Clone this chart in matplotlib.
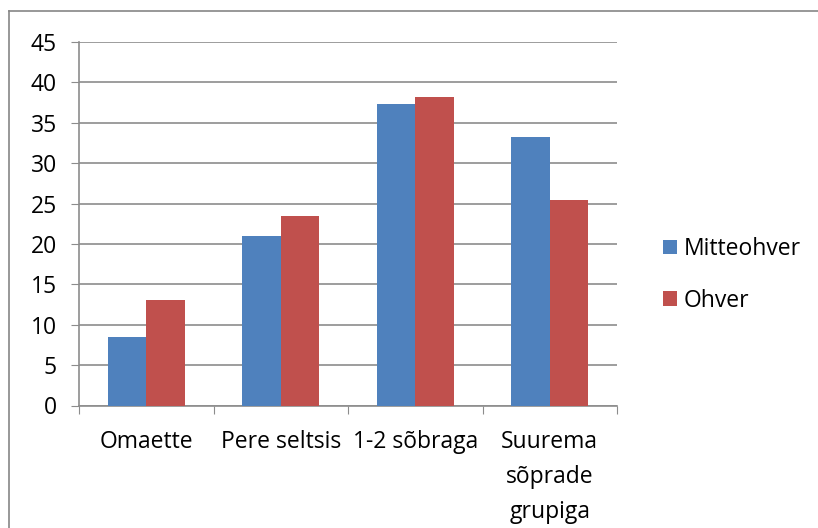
import numpy as np
import matplotlib.pyplot as plt
from matplotlib.lines import Line2D

categories = ["Omaette", "Pere seltsis", "1-2 sõbraga", "Suurema\nsõprade\ngrupiga"]
mitteohver = [8.5, 21.0, 37.3, 33.2]
ohver = [13.0, 23.4, 38.2, 25.4]
series_names = ["Mitteohver", "Ohver"]

BLUE = "#4f81bd"
RED = "#c0504d"
GRID = "#8c8c8c"
FS = 16.5

plt.rcParams["font.family"] = ["Open Sans", "DejaVu Sans"]

fig = plt.figure(figsize=(8.18, 5.28), dpi=100)
ax = fig.add_axes([79 / 818, 1 - 405.5 / 528, 538 / 818, 363.5 / 528])

x = np.arange(len(categories))
w = 1 / 3.5
ax.bar(x - w / 2, mitteohver, w, color=BLUE, label=series_names[0], zorder=3)
ax.bar(x + w / 2, ohver, w, color=RED, label=series_names[1], zorder=3)

ax.set_xlim(-0.5, len(categories) - 0.5)
ax.set_ylim(0, 45)
ax.set_yticks(np.arange(0, 46, 5))
ax.yaxis.grid(True, color=GRID, linewidth=1.2, zorder=0)
ax.set_axisbelow(True)

# category labels between boundary ticks
ax.set_xticks(np.arange(-0.5, len(categories), 1))
ax.set_xticklabels([])
ax.set_xticks(x, minor=True)
ax.set_xticklabels(categories, minor=True, fontsize=FS, linespacing=1.6, va="top")
ax.tick_params(axis="x", which="minor", length=0, pad=18)
ax.tick_params(axis="x", which="major", length=6, color=GRID, direction="out")
ax.tick_params(axis="y", length=6, color=GRID, labelsize=FS, pad=10)

for s in ["top", "right"]:
    ax.spines[s].set_visible(False)
for s in ["left", "bottom"]:
    ax.spines[s].set_color(GRID)
    ax.spines[s].set_linewidth(1.2)

fig.legend(*ax.get_legend_handles_labels(), loc="center left",
           bbox_to_anchor=(652 / 818, 1 - 275 / 528), frameon=False,
           fontsize=FS, handlelength=0.6, handleheight=0.6,
           handletextpad=0.3, labelspacing=1.2, borderpad=0)

# chart border (only top and left edges visible in the crop)
fig.add_artist(Line2D([9 / 818, 9 / 818], [0, 1 - 11 / 528], transform=fig.transFigure,
                      color="#868686", linewidth=1.2))
fig.add_artist(Line2D([9 / 818, 1], [1 - 11 / 528, 1 - 11 / 528], transform=fig.transFigure,
                      color="#868686", linewidth=1.2))

fig.savefig("out.png", dpi=100)
